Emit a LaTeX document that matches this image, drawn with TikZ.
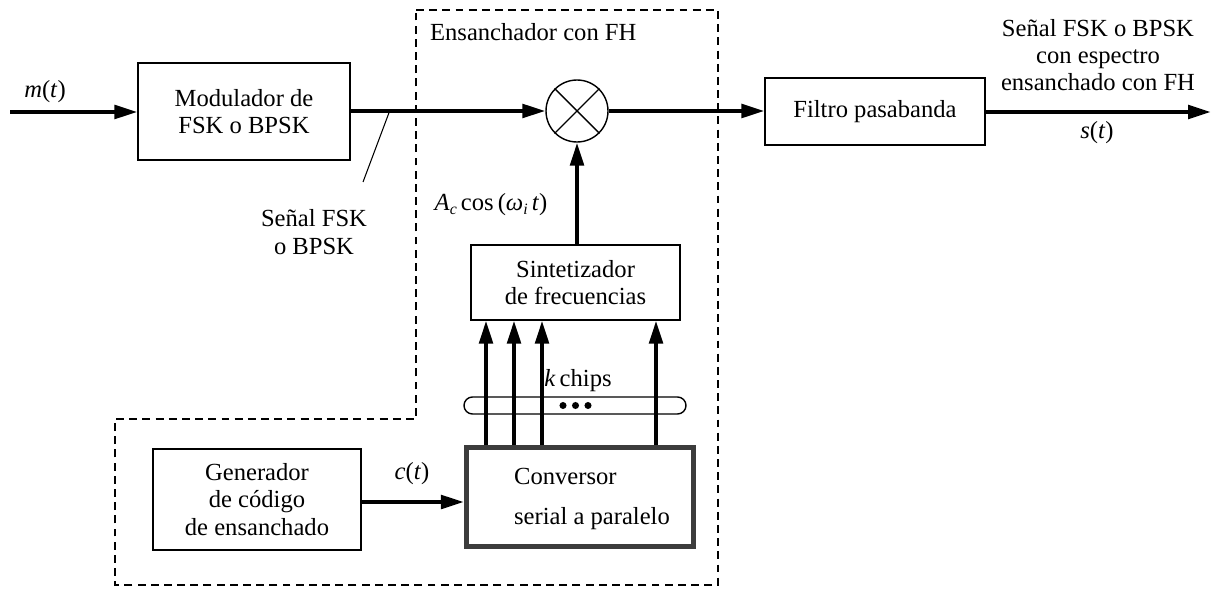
\documentclass[tikz,border=0pt]{standalone}
\usepackage[no-math]{fontspec}
\setmainfont{Liberation Serif}
\usepackage{tikz}
\usetikzlibrary{arrows.meta,calc,positioning}
\definecolor{DarkFrame}{HTML}{3C3C3C}
\newcommand{\sg}[1]{\textit{#1}(\textit{t\/})}

\begin{document}
\begin{tikzpicture}[x=0.02cm,y=-0.02cm,>={Triangle[length=4.6mm,width=2.7mm]},
  font=\fontsize{14}{15.5}\selectfont,
  blk/.style={draw,line width=0.8pt,align=center,inner sep=0pt},
  sig/.style={->,line width=2.3pt},
  lbl/.style={inner sep=1pt,align=center}]
  \useasboundingbox (0,0) rectangle (1214,591);
  % spreading area
  \draw[dashed,line width=0.7pt,dash pattern=on 4.5pt off 3pt]
    (416,10) -- (718,10) -- (718,585) -- (115,585) -- (115,419) -- (416,419) -- cycle;
  \node[lbl,anchor=west] (ens) at (428,32) {Ensanchador con FH};
  % blocks
  \node[blk,minimum width=4.24cm,minimum height=1.94cm] (mod) at (244,111.5) {Modulador de\\FSK o BPSK};
  \node[draw,circle,line width=0.8pt,minimum size=1.24cm,inner sep=0pt] (mix) at (577,111) {};
  \draw[line width=0.8pt] (mix.north west) -- (mix.south east) (mix.north east) -- (mix.south west);
  \node[blk,minimum width=4.4cm,minimum height=1.34cm] (filt) at (875,111.5) {Filtro pasabanda};
  \node[blk,minimum width=4.18cm,minimum height=1.5cm] (sint) at (575.5,282.5) {Sintetizador\\de frecuencias};
  \node[draw=DarkFrame,line width=2.8pt,minimum width=4.55cm,minimum height=1.98cm] (conv) at (580,497) {};
  \node[lbl,align=left] (convtxt) at (592,499) {Conversor\\[7pt]serial a paralelo};
  \node[blk,minimum width=4.16cm,minimum height=2.02cm] (gen) at (257,499.5) {Generador\\de código\\de ensanchado};
  % signals
  \coordinate (in) at (10,112);
  \coordinate (out) at (1211,112);
  \draw[sig] (in) -- (in -| mod.west);
  \node[lbl] (m) at (45,92) {\sg{m}};
  \draw[sig] (mod.east |- mix.west) -- (mix.west);
  \draw[sig] (mix.east) -- (mix.east -| filt.west);
  \draw[sig] (filt.east |- out) -- (out);
  \node[lbl] (outtxt) at (1098,55) {Señal FSK o BPSK\\con espectro\\ensanchado con FH};
  \node[lbl] (s) at (1097,133) {\sg{s}};
  \coordinate (tk) at (390,110);
  \draw[line width=0.6pt] (tk) -- ++(-27,72);
  \node[lbl] (fsk) at (314,232) {Señal FSK\\o BPSK};
  \draw[sig] (sint.north -| mix.south) -- (mix.south);
  \node[lbl] (ac) at (491,205) {\textit{A}\raisebox{-0.35ex}{\small\textit{c}}\,cos\,(\textit{ω}\raisebox{-0.35ex}{\small\textit{i}}\,\textit{t\/})};
  % k chips
  \draw[line width=0.8pt,rounded corners=8.5*0.02cm] (464,397) rectangle (686,414);
  \foreach \d in {563,575.5,588}{\fill (\d,405.5) circle (2pt);}
  \node[lbl] (k) at (578,381) {\textit{k}\,chips};
  \foreach \x in {486,514,542,656}{
    \draw[sig] (\x,0 |- conv.north) -- (\x,0 |- sint.south);
  }
  \draw[sig] (gen.east |- 0,502) -- (conv.west |- 0,502);
  \node[lbl] (c) at (412,474) {\sg{c}};
\end{tikzpicture}
\end{document}
